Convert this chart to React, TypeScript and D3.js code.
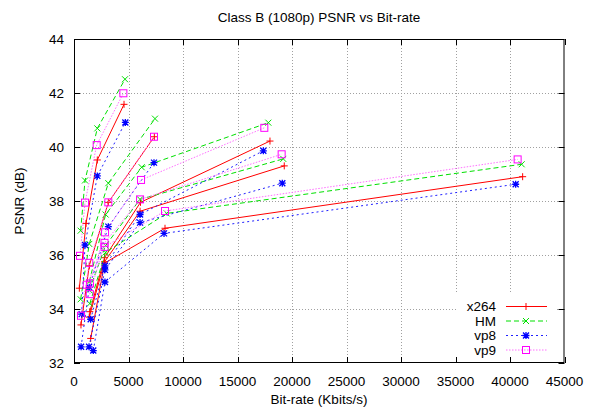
import React from "react";
import * as d3 from "d3";

// legend order = plot order
const codecs = ["x264", "HM", "vp8", "vp9"];

// bit-rate (Kbits/s), one row per test sequence (4 QPs each)
const x264Rate = [
  [490, 1100, 2140, 4590],
  [640, 1400, 3150, 7370],
  [1450, 2800, 6100, 17980],
  [1400, 2800, 6060, 19290],
  [1530, 2800, 8350, 41160],
];
const x264Psnr = [
  [34.77, 37.17, 39.52, 41.58],
  [33.41, 35.6, 37.95, 40.38],
  [33.9, 35.9, 37.95, 40.22],
  [33.7, 35.75, 37.62, 39.3],
  [32.91, 35.7, 36.99, 38.9],
];

const hmRate = [
  [610, 1010, 2140, 4680],
  [610, 1400, 3150, 7430],
  [1400, 2900, 6210, 17830],
  [1400, 2900, 6060, 19200],
  [1450, 2900, 8500, 41070],
];
const hmPsnr = [
  [36.9, 38.76, 40.69, 42.51],
  [34.36, 36.41, 38.66, 41.05],
  [35.0, 37.5, 39.25, 40.9],
  [34.7, 36.35, 38.06, 39.56],
  [34.2, 36.1, 37.54, 39.36],
];

const vp8Rate = [
  [700, 1010, 2140, 4710],
  [650, 1400, 3150, 7340],
  [1530, 2840, 6060, 17370],
  [1380, 2840, 6060, 19110],
  [1770, 2840, 8260, 40520],
];
const vp8Psnr = [
  [33.81, 36.37, 38.93, 40.91],
  [32.6, 34.8, 37.05, 39.42],
  [33.62, 35.6, 37.5, 39.86],
  [32.6, 35.45, 37.2, 38.66],
  [32.46, 35.0, 36.8, 38.62],
];

const vp9Rate = [
  [550, 1010, 2080, 4530],
  [640, 1400, 3150, 7340],
  [1470, 2850, 6150, 17460],
  [1450, 2800, 6060, 19050],
  [1170, 2800, 8350, 40700],
];
const vp9Psnr = [
  [35.97, 37.94, 40.07, 41.99],
  [33.75, 35.71, 37.95, 40.38],
  [34.95, 36.84, 38.78, 40.71],
  [34.55, 36.45, 38.06, 39.73],
  [34.9, 36.3, 37.63, 39.54],
];

const xTicks = [0, 5000, 10000, 15000, 20000, 25000, 30000, 35000, 40000, 45000];
const yTicks = [32, 34, 36, 38, 40, 42, 44];

const rates = [x264Rate, hmRate, vp8Rate, vp9Rate];
const psnrs = [x264Psnr, hmPsnr, vp8Psnr, vp9Psnr];

// gnuplot-ish line types
const styles = [
  { line: "#ff0000", mark: "#ff0000", dash: "none", shape: "plus" },
  { line: "#00e000", mark: "#00e000", dash: "5,3", shape: "cross" },
  { line: "#2020ff", mark: "#0000ff", dash: "2,3", shape: "star" },
  { line: "#ff70ff", mark: "#ff00ff", dash: "1.5,1.5", shape: "square" },
];

const font = "'Liberation Sans', Arial, sans-serif";

const Marker = ({ cx, cy, shape, color }: any) => {
  const r = 3.5;
  if (shape === "plus")
    return <path d={`M${cx - r},${cy}H${cx + r}M${cx},${cy - r}V${cy + r}`} stroke={color} strokeWidth={1} fill="none" />;
  if (shape === "cross")
    return <path d={`M${cx - 3},${cy - 3}L${cx + 3},${cy + 3}M${cx - 3},${cy + 3}L${cx + 3},${cy - 3}`} stroke={color} strokeWidth={1} fill="none" />;
  if (shape === "star")
    return (
      <path
        d={`M${cx - r},${cy}H${cx + r}M${cx},${cy - r}V${cy + r}M${cx - 3},${cy - 3}L${cx + 3},${cy + 3}M${cx - 3},${cy + 3}L${cx + 3},${cy - 3}`}
        stroke={color}
        strokeWidth={1.3}
        fill="none"
      />
    );
  return <rect x={cx - 3.5} y={cy - 3.5} width={7} height={7} stroke={color} strokeWidth={1} fill="none" />;
};

const App = () => {
  const width = 598, height = 410;
  const left = 74, right = 564.5, top = 39, bottom = 363;

  const x = d3.scaleLinear().domain([0, 45000]).range([left, right]);
  const y = d3.scaleLinear().domain([32, 44]).range([bottom, top]);

  const line = d3.line<[number, number]>()
    .x((d) => x(d[0]))
    .y((d) => y(d[1]));

  // legend rows
  const keyX = 496, keyY = 306.5, keyStep = 14.5;

  return (
    <svg width={width} height={height} style={{ position: "absolute", left: 0, top: 0 }} fontFamily={font}>
      <rect width={width} height={height} fill="#fff" />

      {/* grid */}
      <g stroke="#a0a0a0" strokeWidth={1} strokeDasharray="1,2">
        {xTicks.slice(1, -1).map((t) => (
          <line key={"gx" + t} x1={Math.round(x(t)) + 0.5} x2={Math.round(x(t)) + 0.5} y1={top} y2={bottom} />
        ))}
        {yTicks.slice(1, -1).map((t) => (
          <line key={"gy" + t} x1={left} x2={right} y1={Math.round(y(t)) + 0.5} y2={Math.round(y(t)) + 0.5} />
        ))}
      </g>

      {/* key area hides the grid */}
      <rect x={456} y={293} width={99} height={bottom - 293} fill="#fff" />

      {/* ticks */}
      <g stroke="#000" strokeWidth={1}>
        {xTicks.map((t) => (
          <g key={"tx" + t}>
            <line x1={Math.round(x(t)) + 0.5} x2={Math.round(x(t)) + 0.5} y1={bottom} y2={bottom - 6} />
            <line x1={Math.round(x(t)) + 0.5} x2={Math.round(x(t)) + 0.5} y1={top} y2={top + 6} />
          </g>
        ))}
        {yTicks.map((t) => (
          <g key={"ty" + t}>
            <line x1={left} x2={left + 6} y1={Math.round(y(t)) + 0.5} y2={Math.round(y(t)) + 0.5} />
            <line x1={right - 6} x2={right} y1={Math.round(y(t)) + 0.5} y2={Math.round(y(t)) + 0.5} />
          </g>
        ))}
      </g>

      {/* curves, one polyline per sequence */}
      {codecs.map((c, ci) => (
        <g key={c}>
          {rates[ci].map((rs, si) => {
            const pts = rs.map((r, i) => [r, psnrs[ci][si][i]] as [number, number]);
            return (
              <g key={si}>
                <path d={line(pts) || ""} fill="none" stroke={styles[ci].line} strokeWidth={1} strokeDasharray={styles[ci].dash} />
                {pts.map((p, i) => (
                  <Marker key={i} cx={x(p[0])} cy={y(p[1])} shape={styles[ci].shape} color={styles[ci].mark} />
                ))}
              </g>
            );
          })}
        </g>
      ))}

      {/* frame */}
      <rect x={left + 0.5} y={top + 0.5} width={right - left - 1} height={bottom - top - 1} fill="none" stroke="#000" strokeWidth={1} />

      {/* tick labels */}
      <g fontSize={13.5} fill="#000">
        {xTicks.map((t) => (
          <text key={"lx" + t} x={x(t)} y={386} textAnchor="middle">{t}</text>
        ))}
        {yTicks.map((t) => (
          <text key={"ly" + t} x={64} y={y(t)} textAnchor="end" dominantBaseline="central">{t}</text>
        ))}
      </g>

      {/* key */}
      <g fontSize={13.5}>
        {codecs.map((c, ci) => {
          const ky = keyY + ci * keyStep;
          return (
            <g key={"k" + c}>
              <text x={keyX} y={ky} textAnchor="end" dominantBaseline="central">{c}</text>
              <line x1={506} x2={547} y1={ky} y2={ky} stroke={styles[ci].line} strokeWidth={1} strokeDasharray={styles[ci].dash} />
              <Marker cx={526} cy={ky} shape={styles[ci].shape} color={styles[ci].mark} />
            </g>
          );
        })}
      </g>

      <text x={319} y={22} textAnchor="middle" fontSize={13.5}>Class B (1080p) PSNR vs Bit-rate</text>
      <text x={319} y={404} textAnchor="middle" fontSize={13.5}>Bit-rate (Kbits/s)</text>
      <text transform={`translate(24,${(top + bottom) / 2}) rotate(-90)`} textAnchor="middle" fontSize={13.5}>PSNR (dB)</text>
    </svg>
  );
};

export default App;
